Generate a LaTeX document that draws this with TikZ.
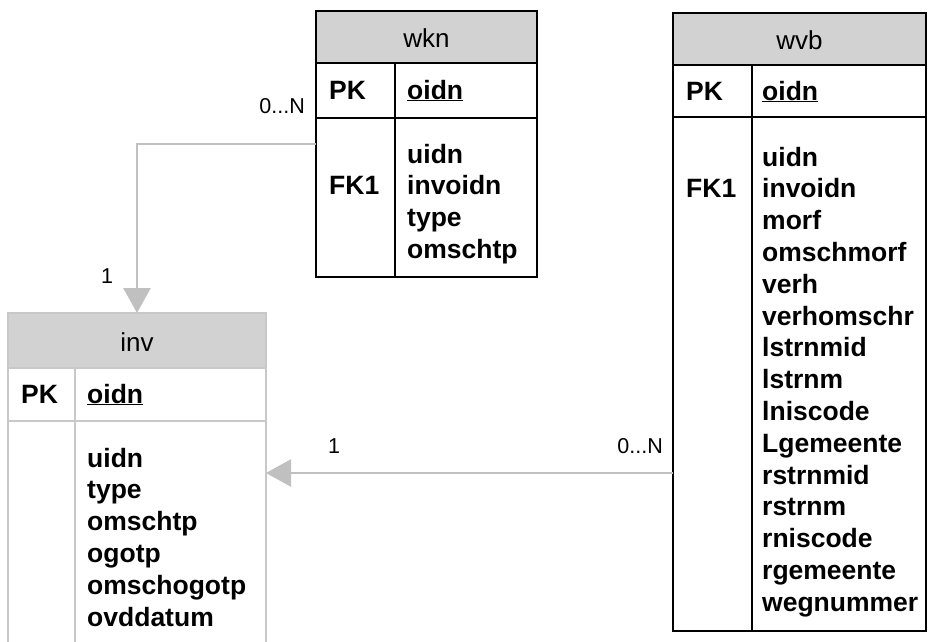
\documentclass[tikz,border=0pt]{standalone}
\usepackage{fontspec}
\setmainfont{Liberation Sans}
\usetikzlibrary{arrows.meta}
\definecolor{hdr}{RGB}{210,210,210}
\definecolor{conn}{RGB}{192,192,192}
\definecolor{ghost}{RGB}{200,200,200}
\begin{document}
\begin{tikzpicture}[x=1pt,y=-1pt,
  tbl/.style={inner sep=0pt, outer sep=0pt, anchor=north west},
  rule/.style={draw=black, line width=1.6pt},
  ghostrule/.style={draw=ghost, line width=1.6pt},
  title/.style={font=\fontsize{26}{30}\selectfont, inner sep=0pt, anchor=base},
  field/.style={font=\fontsize{26.5}{30}\selectfont\bfseries, inner sep=0pt, anchor=base west},
  card/.style={font=\fontsize{21.5}{24}\selectfont, inner sep=0pt},
  link/.style={draw=conn, line width=2.7pt, -{Triangle[length=25pt,width=27pt,fill=conn]}}
]
\useasboundingbox (0,0) rectangle (930,641);
\clip (0,0) rectangle (930,641);

% ---------- table wkn ----------
\node[tbl, minimum width=221pt, minimum height=266pt] (wkn) at (316,11) {};
\fill[hdr] (316,11) rectangle (537,63);
\draw[rule] (316,63) -- (537,63);
\draw[rule] (316,118) -- (537,118);
\draw[rule] (395,63) -- (395,277);
\draw[rule] (wkn.north west) rectangle (wkn.south east);
\node[title] (wkn-t) at (426.5,47) {wkn};
\node[field] (wkn-pk) at (329,99) {PK};
\node[field] (wkn-id) at (407,99) {\underline{oidn}};
\node[field] (wkn-fk) at (329,194) {FK1};
\foreach \t [count=\i from 0] in {uidn,invoidn,type,omschtp}
  \node[field] (wkn-f\i) at (407,163+31.8*\i) {\t};

% ---------- table wvb ----------
\node[tbl, minimum width=253pt, minimum height=618pt] (wvb) at (673,13) {};
\fill[hdr] (673,13) rectangle (926,65);
\draw[rule] (673,65) -- (926,65);
\draw[rule] (673,117) -- (926,117);
\draw[rule] (752,65) -- (752,631);
\draw[rule] (wvb.north west) rectangle (wvb.south east);
\node[title] (wvb-t) at (799.5,49) {wvb};
\node[field] (wvb-pk) at (686,100) {PK};
\node[field] (wvb-id) at (762,100) {\underline{oidn}};
\node[field] (wvb-fk) at (686,197) {FK1};
\foreach \t [count=\i from 0] in {uidn,invoidn,morf,omschmorf,verh,verhomschr,lstrnmid,lstrnm,lniscode,Lgemeente,rstrnmid,rstrnm,rniscode,rgemeente,wegnummer}
  \node[field] (wvb-f\i) at (762,166+31.8*\i) {\t};

% ---------- table inv ----------
\node[tbl, minimum width=258pt, minimum height=347pt] (inv) at (8,313) {};
\fill[hdr] (8,313) rectangle (266,368);
\draw[ghostrule] (8,368) -- (266,368);
\draw[ghostrule] (8,421) -- (266,421);
\draw[ghostrule] (75,368) -- (75,660);
\draw[ghostrule] (inv.north west) rectangle (inv.south east);
\node[title] (inv-t) at (137,351) {inv};
\node[field] (inv-pk) at (21,403) {PK};
\node[field] (inv-id) at (87,403) {\underline{oidn}};
\foreach \t [count=\i from 0] in {uidn,type,omschtp,ogotp,omschogotp,ovddatum}
  \node[field] (inv-f\i) at (87,467+31.8*\i) {\t};

% ---------- relationships ----------
\draw[link] (wkn.west) -| (inv.north);
\coordinate (wvbport) at ([yshift=-151pt]wvb.west);
\draw[link] (wvbport) -- (inv.east |- wvbport);

\node[card, anchor=base east] (c1) at (305,113) {0...N};
\node[card, anchor=base west] (c2) at (101,283) {1};
\node[card, anchor=base west] (c3) at (328,453) {1};
\node[card, anchor=base east] (c4) at (663,453) {0...N};
\end{tikzpicture}
\end{document}
